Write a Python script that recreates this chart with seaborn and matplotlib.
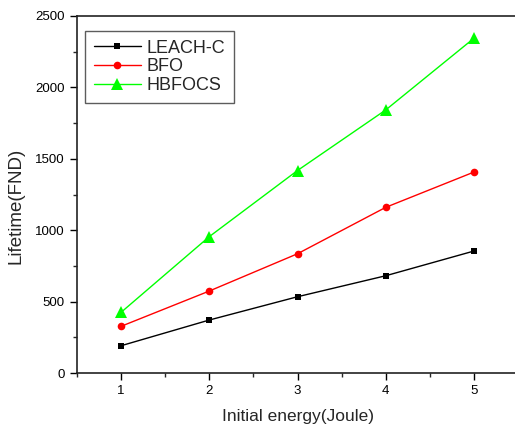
import pandas as pd
import seaborn as sns
import matplotlib.pyplot as plt
from matplotlib.ticker import MultipleLocator

energy = [1, 2, 3, 4, 5]
leach_c = [191, 371, 534, 681, 854]
bfo = [327, 574, 835, 1160, 1407]
hbfocs = [425, 955, 1418, 1842, 2344]

df = pd.DataFrame({
    "energy": energy * 3,
    "lifetime": leach_c + bfo + hbfocs,
    "method": ["LEACH-C"] * 5 + ["BFO"] * 5 + ["HBFOCS"] * 5,
})

sns.set_style("ticks")
plt.rcParams["font.family"] = ["Liberation Sans", "DejaVu Sans"]

fig = plt.figure(figsize=(5.15, 4.3), dpi=100)
# axes run a little past the right edge of the image, as in the reference
ax = fig.add_axes([77 / 515, 57 / 430, 441 / 515, 357 / 430])

colors = {"LEACH-C": "black", "BFO": "#ff0000", "HBFOCS": "#00ff00"}
markers = {"LEACH-C": "s", "BFO": "o", "HBFOCS": "^"}
sizes = {"LEACH-C": 4.5, "BFO": 5.5, "HBFOCS": 8}

for name in ["LEACH-C", "BFO", "HBFOCS"]:
    sub = df[df["method"] == name]
    sns.lineplot(data=sub, x="energy", y="lifetime", ax=ax, color=colors[name],
                 marker=markers[name], markersize=sizes[name], markeredgewidth=0,
                 linewidth=1, label=name)

ax.set_xlim(0.5, 5.5)
ax.set_ylim(0, 2500)
ax.xaxis.set_major_locator(MultipleLocator(1))
ax.xaxis.set_minor_locator(MultipleLocator(0.5))
ax.yaxis.set_major_locator(MultipleLocator(500))
ax.yaxis.set_minor_locator(MultipleLocator(250))
ax.tick_params(which="major", direction="out", length=5, width=1, labelsize=9.5,
               colors="black", pad=4)
ax.tick_params(which="minor", direction="out", length=3, width=1)
for s in ax.spines.values():
    s.set_linewidth(1.2)
    s.set_color("#222222")
ax.spines["top"].set_visible(True)
ax.spines["right"].set_visible(False)

ax.set_xlabel("Initial energy(Joule)", fontsize=12.5)
ax.set_ylabel("Lifetime(FND)", fontsize=13.5)
ax.xaxis.set_label_coords(0.5, -0.102)
ax.yaxis.set_label_coords(-0.119, 0.468)

leg = ax.legend(loc="upper left", bbox_to_anchor=(0.018, 0.959), borderaxespad=0,
                fontsize=13, frameon=True, fancybox=False, edgecolor="#333333",
                handlelength=2.6, handletextpad=0.3, labelspacing=0.1,
                borderpad=0.5)
leg.get_frame().set_linewidth(1)

fig.savefig("out.png", dpi=100)
